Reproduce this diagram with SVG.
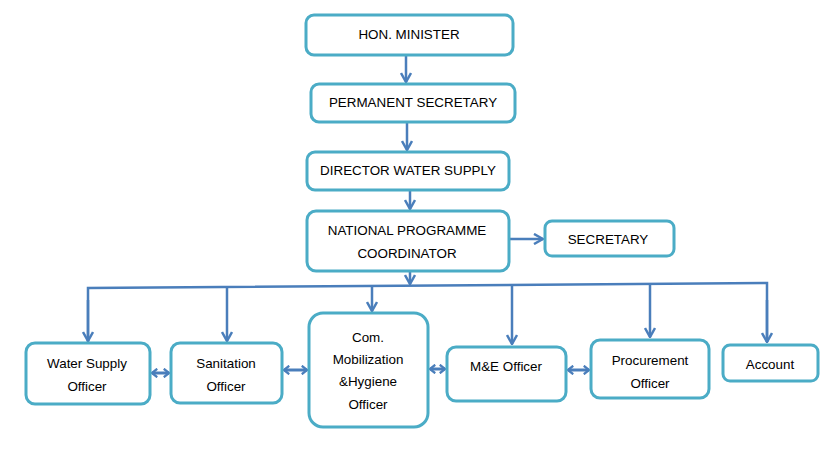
<svg xmlns="http://www.w3.org/2000/svg" width="839" height="454" viewBox="0 0 839 454">
<style>
.box{fill:#fff;stroke:#4BACC6;stroke-width:3}
.t{font-family:"Liberation Sans",Arial,sans-serif;font-size:13.4px;fill:#000;text-anchor:middle;dominant-baseline:central}
.c{fill:none;stroke:#4A7EBB;stroke-width:2.5}
.d{fill:none;stroke:#4A7EBB;stroke-width:3}
</style>
<defs>
<marker id="ah" viewBox="0 0 12 12" refX="11" refY="6" markerWidth="12" markerHeight="12" markerUnits="userSpaceOnUse" orient="auto">
<polyline points="2,1 11,6 2,11" fill="none" stroke="#4A7EBB" stroke-width="2.5"/>
</marker>
<marker id="dh" viewBox="0 0 12 12" refX="11" refY="6" markerWidth="9" markerHeight="10" markerUnits="userSpaceOnUse" orient="auto-start-reverse" preserveAspectRatio="none">
<polyline points="4,1 11,6 4,11" fill="none" stroke="#4A7EBB" stroke-width="3"/>
</marker>
</defs>
<g id="connectors">
<line class="c" x1="406" y1="55" x2="406" y2="82" marker-end="url(#ah)"/>
<line class="c" x1="407" y1="122" x2="407" y2="150" marker-end="url(#ah)"/>
<line class="c" x1="410" y1="190" x2="410" y2="209" marker-end="url(#ah)"/>
<line class="c" x1="509" y1="239" x2="543" y2="239" marker-end="url(#ah)"/>
<line class="c" x1="410" y1="271" x2="410" y2="284" marker-end="url(#ah)"/>
<polyline class="c" points="88,342 88,288 767,283 767,342"/>
<line class="c" x1="88" y1="300" x2="88" y2="341" marker-end="url(#ah)"/>
<line class="c" x1="227" y1="287" x2="227" y2="341" marker-end="url(#ah)"/>
<line class="c" x1="372" y1="286" x2="372" y2="311" marker-end="url(#ah)"/>
<line class="c" x1="512" y1="285" x2="512" y2="344" marker-end="url(#ah)"/>
<line class="c" x1="650" y1="284" x2="650" y2="337" marker-end="url(#ah)"/>
<line class="c" x1="767" y1="300" x2="767" y2="342" marker-end="url(#ah)"/>
<line class="d" x1="152" y1="373" x2="169" y2="373" marker-start="url(#dh)" marker-end="url(#dh)"/>
<line class="d" x1="284" y1="370" x2="307" y2="370" marker-start="url(#dh)" marker-end="url(#dh)"/>
<line class="d" x1="430" y1="369" x2="445" y2="369" marker-start="url(#dh)" marker-end="url(#dh)"/>
<line class="d" x1="568" y1="370" x2="589" y2="370" marker-start="url(#dh)" marker-end="url(#dh)"/>
</g>
<g id="minister"><rect class="box" x="306" y="15" width="207" height="40" rx="8"/><text class="t" x="409" y="34">HON. MINISTER</text></g>
<g id="permsec"><rect class="box" x="311" y="84" width="204" height="38" rx="8"/><text class="t" x="413" y="102">PERMANENT SECRETARY</text></g>
<g id="director"><rect class="box" x="307" y="152" width="202" height="38" rx="8"/><text class="t" x="408" y="170">DIRECTOR WATER SUPPLY</text></g>
<g id="npc"><rect class="box" x="307" y="211" width="202" height="60" rx="9"/><text class="t" x="407" y="230">NATIONAL PROGRAMME</text><text class="t" x="407" y="253">COORDINATOR</text></g>
<g id="secretary"><rect class="box" x="545" y="221" width="129" height="35" rx="7"/><text class="t" x="608" y="239">SECRETARY</text></g>
<g id="wso"><rect class="box" x="26" y="343" width="124" height="61" rx="9"/><text class="t" x="87" y="363">Water Supply</text><text class="t" x="87" y="386">Officer</text></g>
<g id="san"><rect class="box" x="171" y="343" width="111" height="60" rx="9"/><text class="t" x="226" y="363">Sanitation</text><text class="t" x="226" y="386">Officer</text></g>
<g id="com"><rect class="box" x="309" y="313" width="119" height="114" rx="14"/><text class="t" x="368" y="337">Com.</text><text class="t" x="368" y="359">Mobilization</text><text class="t" x="368" y="381">&amp;Hygiene</text><text class="t" x="368" y="404">Officer</text></g>
<g id="me"><rect class="box" x="447" y="347" width="119" height="54" rx="9"/><text class="t" x="506" y="366">M&amp;E Officer</text></g>
<g id="proc"><rect class="box" x="591" y="340" width="118" height="58" rx="9"/><text class="t" x="650" y="360">Procurement</text><text class="t" x="650" y="383">Officer</text></g>
<g id="account"><rect class="box" x="723" y="345" width="95" height="36" rx="7"/><text class="t" x="770" y="364">Account</text></g>
</svg>
